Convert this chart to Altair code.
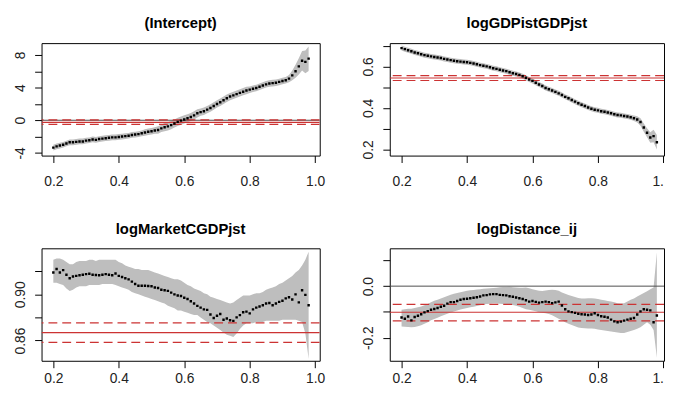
import altair as alt
import pandas as pd

taus = [0.20, 0.21, 0.22, 0.23, 0.24, 0.25, 0.26, 0.27, 0.28, 0.29,
        0.30, 0.31, 0.32, 0.33, 0.34, 0.35, 0.36, 0.37, 0.38, 0.39,
        0.40, 0.41, 0.42, 0.43, 0.44, 0.45, 0.46, 0.47, 0.48, 0.49,
        0.50, 0.51, 0.52, 0.53, 0.54, 0.55, 0.56, 0.57, 0.58, 0.59,
        0.60, 0.61, 0.62, 0.63, 0.64, 0.65, 0.66, 0.67, 0.68, 0.69,
        0.70, 0.71, 0.72, 0.73, 0.74, 0.75, 0.76, 0.77, 0.78, 0.79,
        0.80, 0.81, 0.82, 0.83, 0.84, 0.85, 0.86, 0.87, 0.88, 0.89,
        0.90, 0.91, 0.92, 0.93, 0.94, 0.95, 0.96, 0.97, 0.98]

# (Intercept)
coef1 = [-3.35, -3.2, -3.1, -3.0, -2.85, -2.7, -2.7, -2.65, -2.6, -2.6,
         -2.5, -2.45, -2.35, -2.4, -2.3, -2.25, -2.2, -2.15, -2.1, -2.1,
         -2.05, -2.0, -1.95, -1.9, -1.8, -1.75, -1.7, -1.6, -1.5, -1.4,
         -1.35, -1.25, -1.2, -1.0, -0.85, -0.75, -0.6, -0.4, -0.2, -0.05,
         0.1, 0.25, 0.4, 0.6, 0.85, 1.0, 1.1, 1.3, 1.5, 1.75,
         2.0, 2.2, 2.45, 2.7, 2.9, 3.05, 3.2, 3.35, 3.5, 3.65,
         3.75, 3.85, 3.95, 4.1, 4.25, 4.4, 4.5, 4.55, 4.6, 4.7,
         4.8, 4.9, 5.1, 5.5, 6.0, 6.6, 7.3, 7.15, 7.55]
half1 = [0.35, 0.35, 0.35, 0.35, 0.35, 0.35, 0.35, 0.35, 0.35, 0.35,
         0.35, 0.35, 0.35, 0.35, 0.35, 0.35, 0.35, 0.35, 0.35, 0.35,
         0.35, 0.35, 0.35, 0.35, 0.35, 0.35, 0.35, 0.35, 0.4, 0.4,
         0.4, 0.4, 0.45, 0.45, 0.5, 0.5, 0.5, 0.5, 0.5, 0.5,
         0.5, 0.5, 0.5, 0.5, 0.5, 0.45, 0.45, 0.45, 0.45, 0.45,
         0.45, 0.45, 0.45, 0.45, 0.45, 0.45, 0.45, 0.45, 0.45, 0.45,
         0.4, 0.4, 0.4, 0.4, 0.4, 0.4, 0.4, 0.4, 0.4, 0.4,
         0.4, 0.4, 0.45, 0.6, 0.8, 1.0, 1.2, 1.4, 1.5]
ols1 = [-0.25, 0.05, -0.5]   # estimate, upper, lower

# logGDPistGDPjst
coef2 = [0.688, 0.683, 0.678, 0.673, 0.667, 0.663, 0.658, 0.654, 0.651, 0.648,
         0.645, 0.643, 0.640, 0.636, 0.633, 0.630, 0.627, 0.625, 0.623, 0.621,
         0.620, 0.617, 0.614, 0.610, 0.606, 0.603, 0.600, 0.596, 0.591, 0.588,
         0.584, 0.580, 0.577, 0.572, 0.567, 0.563, 0.559, 0.552, 0.545, 0.537,
         0.530, 0.521, 0.513, 0.505, 0.496, 0.490, 0.484, 0.477, 0.470, 0.462,
         0.453, 0.446, 0.438, 0.430, 0.422, 0.415, 0.409, 0.402, 0.396, 0.391,
         0.388, 0.384, 0.381, 0.378, 0.374, 0.369, 0.366, 0.364, 0.361, 0.358,
         0.355, 0.350, 0.344, 0.332, 0.305, 0.280, 0.257, 0.264, 0.234]
half2 = [0.012, 0.012, 0.012, 0.012, 0.012, 0.012, 0.012, 0.012, 0.012, 0.012,
         0.012, 0.012, 0.012, 0.012, 0.012, 0.012, 0.012, 0.012, 0.012, 0.012,
         0.012, 0.012, 0.012, 0.012, 0.012, 0.012, 0.012, 0.012, 0.012, 0.012,
         0.012, 0.012, 0.012, 0.012, 0.012, 0.012, 0.012, 0.012, 0.012, 0.012,
         0.012, 0.012, 0.012, 0.012, 0.012, 0.012, 0.012, 0.012, 0.012, 0.012,
         0.012, 0.012, 0.012, 0.012, 0.012, 0.012, 0.012, 0.012, 0.012, 0.012,
         0.012, 0.012, 0.012, 0.012, 0.012, 0.012, 0.012, 0.012, 0.012, 0.012,
         0.012, 0.013, 0.015, 0.018, 0.020, 0.022, 0.025, 0.030, 0.035]
ols2 = [0.544, 0.555, 0.532]

# logMarketCGDPjst
coef3 = [0.919, 0.922, 0.919, 0.921, 0.917, 0.914, 0.9155, 0.916, 0.9165, 0.917,
         0.9175, 0.9178, 0.917, 0.9168, 0.9165, 0.917, 0.9175, 0.917, 0.9165, 0.918,
         0.916, 0.915, 0.914, 0.913, 0.911, 0.909, 0.9075, 0.9075, 0.9075, 0.9072,
         0.907, 0.906, 0.9055, 0.904, 0.9035, 0.903, 0.9015, 0.900, 0.899, 0.8985,
         0.897, 0.896, 0.894, 0.892, 0.890, 0.8885, 0.887, 0.8865, 0.8825, 0.8795,
         0.8815, 0.883, 0.878, 0.879, 0.8775, 0.877, 0.880, 0.882, 0.8845, 0.885,
         0.8835, 0.887, 0.8885, 0.8895, 0.8905, 0.892, 0.8925, 0.8905, 0.892, 0.8935,
         0.8945, 0.8965, 0.8975, 0.8955, 0.900, 0.893, 0.9035, 0.8995, 0.8905]
hi3 = [0.930, 0.931, 0.931, 0.930, 0.928, 0.926, 0.926, 0.928, 0.929, 0.929,
       0.929, 0.930, 0.930, 0.929, 0.930, 0.930, 0.930, 0.930, 0.930, 0.930,
       0.928, 0.927, 0.925, 0.924, 0.923, 0.922, 0.922, 0.921, 0.921, 0.921,
       0.920, 0.919, 0.918, 0.917, 0.916, 0.915, 0.914, 0.913, 0.913, 0.912,
       0.910, 0.908, 0.907, 0.905, 0.904, 0.903, 0.901, 0.900, 0.898, 0.897,
       0.896, 0.895, 0.894, 0.893, 0.892, 0.893, 0.895, 0.897, 0.899, 0.899,
       0.899, 0.900, 0.901, 0.901, 0.902, 0.904, 0.905, 0.906, 0.907, 0.909,
       0.910, 0.912, 0.914, 0.916, 0.919, 0.921, 0.925, 0.930, 0.937]
lo3 = [0.910, 0.910, 0.909, 0.908, 0.905, 0.903, 0.904, 0.906, 0.907, 0.907,
       0.907, 0.908, 0.908, 0.908, 0.908, 0.909, 0.909, 0.909, 0.909, 0.908,
       0.907, 0.906, 0.905, 0.904, 0.902, 0.901, 0.900, 0.899, 0.898, 0.897,
       0.896, 0.895, 0.894, 0.893, 0.892, 0.890, 0.889, 0.888, 0.886, 0.886,
       0.885, 0.884, 0.883, 0.882, 0.882, 0.880, 0.878, 0.876, 0.875, 0.873,
       0.871, 0.869, 0.867, 0.865, 0.864, 0.863, 0.866, 0.870, 0.873, 0.875,
       0.875, 0.875, 0.876, 0.876, 0.876, 0.877, 0.877, 0.877, 0.877, 0.877,
       0.878, 0.878, 0.878, 0.878, 0.878, 0.877, 0.876, 0.866, 0.844]
ols3 = [0.8668, 0.8753, 0.8583]

# logDistance_ij
coef4 = [-0.122, -0.127, -0.118, -0.133, -0.120, -0.115, -0.109, -0.102, -0.097, -0.092,
         -0.089, -0.085, -0.080, -0.076, -0.068, -0.062, -0.062, -0.058, -0.053, -0.050,
         -0.049, -0.047, -0.045, -0.043, -0.040, -0.036, -0.035, -0.032, -0.031, -0.031,
         -0.034, -0.035, -0.036, -0.039, -0.041, -0.044, -0.047, -0.050, -0.055, -0.060,
         -0.058, -0.061, -0.064, -0.062, -0.060, -0.062, -0.066, -0.063, -0.060, -0.075,
         -0.090, -0.098, -0.101, -0.104, -0.107, -0.109, -0.110, -0.112, -0.110, -0.105,
         -0.112, -0.117, -0.119, -0.122, -0.130, -0.137, -0.140, -0.138, -0.134, -0.130,
         -0.127, -0.124, -0.110, -0.098, -0.090, -0.092, -0.094, -0.140, -0.114]
hi4 = [-0.092, -0.090, -0.088, -0.088, -0.085, -0.082, -0.079, -0.074, -0.069, -0.063,
       -0.057, -0.053, -0.048, -0.043, -0.038, -0.033, -0.030, -0.027, -0.024, -0.021,
       -0.018, -0.016, -0.015, -0.013, -0.012, -0.010, -0.009, -0.008, -0.007, -0.006,
       -0.004, -0.003, -0.003, -0.002, -0.004, -0.005, -0.006, -0.006, -0.005, -0.008,
       -0.012, -0.015, -0.018, -0.019, -0.017, -0.015, -0.014, -0.015, -0.018, -0.025,
       -0.030, -0.034, -0.038, -0.042, -0.046, -0.048, -0.048, -0.047, -0.047, -0.048,
       -0.050, -0.053, -0.055, -0.058, -0.060, -0.063, -0.066, -0.067, -0.066, -0.060,
       -0.053, -0.048, -0.040, -0.033, -0.027, -0.020, -0.012, -0.005, 0.132]
lo4 = [-0.157, -0.158, -0.159, -0.160, -0.159, -0.156, -0.152, -0.146, -0.140, -0.133,
       -0.128, -0.123, -0.117, -0.112, -0.107, -0.102, -0.099, -0.095, -0.091, -0.088,
       -0.085, -0.082, -0.080, -0.077, -0.074, -0.071, -0.069, -0.068, -0.067, -0.067,
       -0.068, -0.069, -0.070, -0.072, -0.073, -0.076, -0.080, -0.085, -0.090, -0.092,
       -0.095, -0.098, -0.101, -0.103, -0.105, -0.108, -0.113, -0.120, -0.127, -0.133,
       -0.140, -0.146, -0.151, -0.156, -0.161, -0.163, -0.164, -0.165, -0.165, -0.166,
       -0.168, -0.170, -0.172, -0.174, -0.176, -0.178, -0.180, -0.182, -0.182, -0.178,
       -0.174, -0.170, -0.166, -0.160, -0.150, -0.140, -0.150, -0.170, -0.278]
ols4 = [-0.1015, -0.0708, -0.1346]

x_ticks = [0.2, 0.4, 0.6, 0.8, 1.0]
x_min = 0.164
px_per_unit = 331.8
left_w = 282
right_w = 278

FONT = "Liberation Sans"
BAND = "#bebebe"
RED = "#cc3333"


def label_expr(pairs):
    expr = "''"
    for v, txt in reversed(pairs):
        expr = f"abs(datum.value - ({v})) < 1e-9 ? '{txt}' : ({expr})"
    return expr


def panel(title, coef, lo, hi, ols, ydom, yticks, ylabels, zero, xpad, right):
    df = pd.DataFrame({"tau": taus, "coef": coef, "lo": lo, "hi": hi})
    w = right_w if right else left_w
    xdom = [x_min, x_min + w / px_per_unit]
    if right:
        xlab = "datum.value == 1 ? '1.' : format(datum.value, '.1f')"
        xalign = {"condition": {"test": "datum.value == 1", "value": "right"}, "value": "center"}
    else:
        xlab = "format(datum.value, '.1f')"
        xalign = "center"
    xaxis = alt.Axis(values=x_ticks, labelExpr=xlab, labelAlign=xalign,
                     tickSize=7, tickColor="black", labelFontSize=14, labelFont=FONT,
                     labelColor="#222222", labelPadding=xpad, labelFlush=False,
                     labelOverlap=False, domain=False, grid=False, title=None)
    yaxis = alt.Axis(values=yticks, labelExpr=label_expr(ylabels), labelAngle=270,
                     labelAlign="center", labelBaseline="bottom",
                     tickSize=7, tickColor="black", labelFontSize=14, labelFont=FONT,
                     labelColor="#222222", labelPadding=7, labelOverlap=False,
                     domain=False, grid=False, title=None)
    xs = alt.Scale(domain=xdom, nice=False, zero=False)
    ys = alt.Scale(domain=ydom, nice=False, zero=False)
    X = alt.X("tau:Q", scale=xs, axis=xaxis)

    band = alt.Chart(df).mark_area(color=BAND, clip=True).encode(
        x=X, y=alt.Y("lo:Q", scale=ys, axis=yaxis), y2="hi:Q")
    layers = [band]
    if zero:
        z = pd.DataFrame({"v": [0.0]})
        layers.append(alt.Chart(z).mark_rule(color="#4d4d4d", strokeWidth=1, clip=True).encode(
            y=alt.Y("v:Q", scale=ys, axis=yaxis)))
    est = pd.DataFrame({"v": [ols[0]]})
    ci = pd.DataFrame({"v": [ols[1], ols[2]]})
    layers.append(alt.Chart(est).mark_rule(color=RED, strokeWidth=1.2, clip=True).encode(
        y=alt.Y("v:Q", scale=ys, axis=yaxis)))
    layers.append(alt.Chart(ci).mark_rule(color=RED, strokeWidth=1.2, strokeDash=[9, 5], clip=True).encode(
        y=alt.Y("v:Q", scale=ys, axis=yaxis)))
    layers.append(alt.Chart(df).mark_square(size=6, color="black", opacity=1, clip=True).encode(
        x=X, y=alt.Y("coef:Q", scale=ys, axis=yaxis)))
    return alt.layer(*layers).properties(
        width=w, height=114,
        title=alt.TitleParams(title, fontSize=15, font=FONT, fontWeight="bold",
                              color="black", offset=12, anchor="middle"))


p1 = panel("(Intercept)", coef1,
           [c - h for c, h in zip(coef1, half1)], [c + h for c, h in zip(coef1, half1)],
           ols1, [-4.33, 9.45], [-4, -2, 0, 2, 4, 6, 8],
           [(-4, "-4"), (0, "0"), (4, "4"), (8, "8")], True, 12, False)
p2 = panel("logGDPistGDPjst", coef2,
           [c - h for c, h in zip(coef2, half2)], [c + h for c, h in zip(coef2, half2)],
           ols2, [0.170, 0.712], [0.2, 0.3, 0.4, 0.5, 0.6, 0.7],
           [(0.2, "0.2"), (0.4, "0.4"), (0.6, "0.6")], False, 12, True)
p3 = panel("logMarketCGDPjst", coef3, lo3, hi3, ols3, [0.8424, 0.9399],
           [0.86, 0.88, 0.90, 0.92], [(0.86, "0.86"), (0.90, "0.90")], False, 4, False)
p4 = panel("logDistance_ij", coef4, lo4, hi4, ols4, [-0.290, 0.147],
           [-0.2, -0.1, 0.0, 0.1], [(-0.2, "-0.2"), (0.0, "0.0")], True, 4, True)

chart = alt.concat(p1, p2, p3, p4, columns=2, spacing={"row": 94, "column": 71},
                   bounds="flush").properties(
    padding={"left": 5, "top": 5, "right": 0, "bottom": 0},
    background="white",
).configure_view(stroke="black", strokeWidth=1)

chart.save("out.html", embed_options={"renderer": "svg", "actions": False})
